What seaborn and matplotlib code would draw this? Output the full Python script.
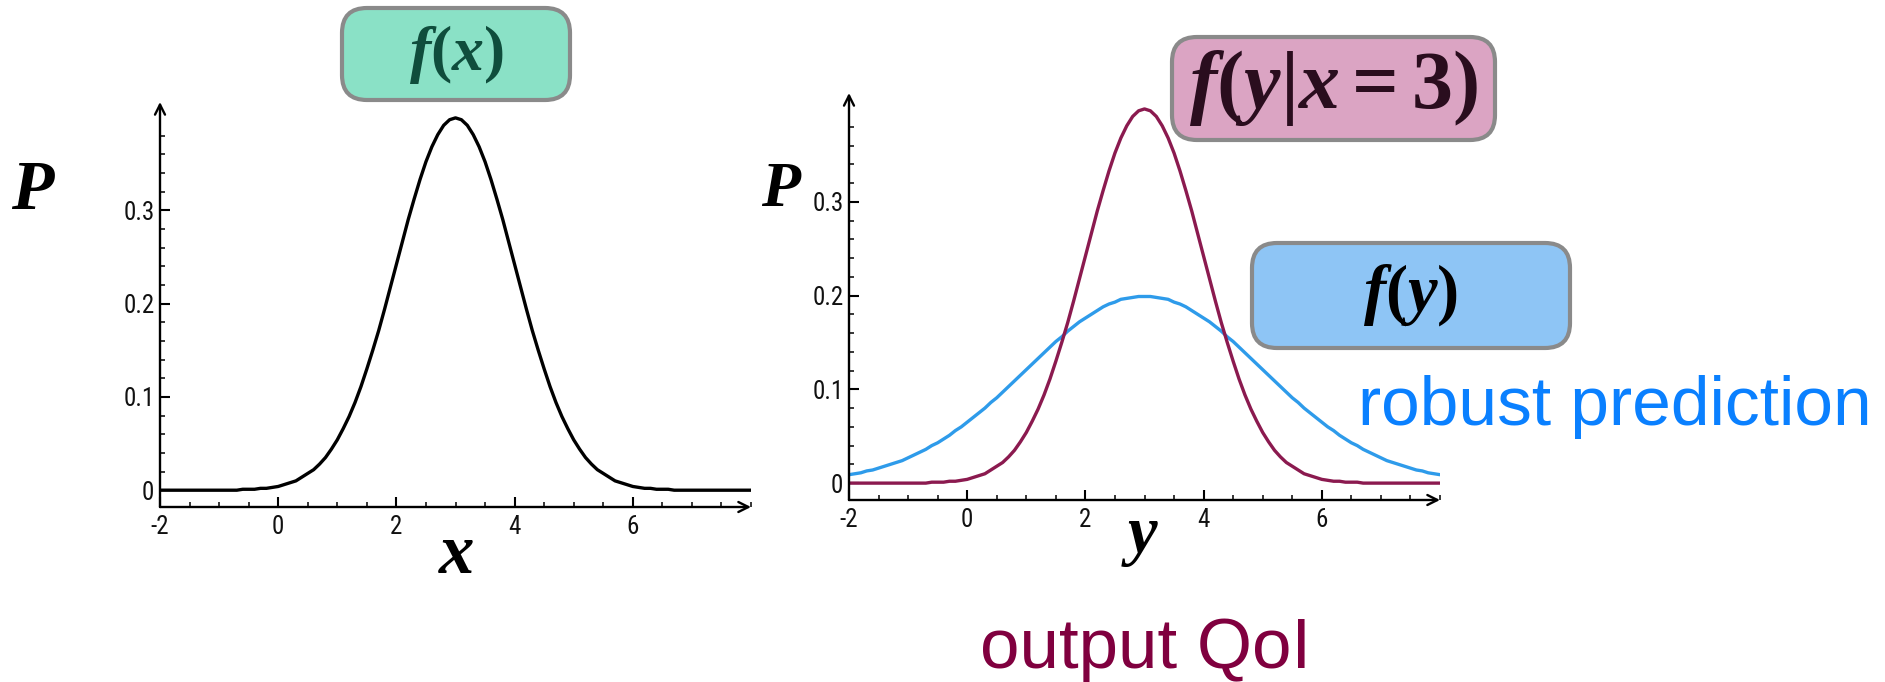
import numpy as np
import pandas as pd
import matplotlib
matplotlib.use("Agg")
import matplotlib.pyplot as plt
from matplotlib import font_manager
from matplotlib.patches import FancyBboxPatch
from matplotlib.ticker import FixedLocator, MultipleLocator
import seaborn as sns

# ---- data -------------------------------------------------------------
# sample positions along the horizontal axis (-2 ... 8, step 0.1)
grid = np.round(np.arange(-2.0, 8.0001, 0.1), 1)

# input density f(x)
density_x = [
    0.000, 0.000, 0.000, 0.000, 0.000, 0.000, 0.000, 0.000, 0.000, 0.000,
    0.000, 0.000, 0.000, 0.000, 0.001, 0.001, 0.001, 0.002, 0.002, 0.003,
    0.004, 0.006, 0.008, 0.010, 0.014, 0.018, 0.022, 0.028, 0.035, 0.044,
    0.054, 0.066, 0.079, 0.094, 0.111, 0.130, 0.150, 0.171, 0.194, 0.218,
    0.242, 0.266, 0.290, 0.312, 0.333, 0.352, 0.368, 0.381, 0.391, 0.397,
    0.399,
    0.397, 0.391, 0.381, 0.368, 0.352, 0.333, 0.312, 0.290, 0.266, 0.242,
    0.218, 0.194, 0.171, 0.150, 0.130, 0.111, 0.094, 0.079, 0.066, 0.054,
    0.044, 0.035, 0.028, 0.022, 0.018, 0.014, 0.010, 0.008, 0.006, 0.004,
    0.003, 0.002, 0.002, 0.001, 0.001, 0.001, 0.000, 0.000, 0.000, 0.000,
    0.000, 0.000, 0.000, 0.000, 0.000, 0.000, 0.000, 0.000, 0.000, 0.000,
]
# conditional output density f(y|x=3)
density_y_given_x = list(density_x)
# marginal output density f(y)
density_y = [
    0.009, 0.010, 0.011, 0.013, 0.014, 0.016, 0.018, 0.020, 0.022, 0.024,
    0.027, 0.030, 0.033, 0.036, 0.040, 0.043, 0.047, 0.051, 0.056, 0.060,
    0.065, 0.070, 0.075, 0.080, 0.086, 0.091, 0.097, 0.103, 0.109, 0.115,
    0.121, 0.127, 0.133, 0.139, 0.145, 0.151, 0.156, 0.162, 0.167, 0.172,
    0.176, 0.180, 0.184, 0.188, 0.191, 0.193, 0.196, 0.197, 0.198, 0.199,
    0.199,
    0.199, 0.198, 0.197, 0.196, 0.193, 0.191, 0.188, 0.184, 0.180, 0.176,
    0.172, 0.167, 0.162, 0.156, 0.151, 0.145, 0.139, 0.133, 0.127, 0.121,
    0.115, 0.109, 0.103, 0.097, 0.091, 0.086, 0.080, 0.075, 0.070, 0.065,
    0.060, 0.056, 0.051, 0.047, 0.043, 0.040, 0.036, 0.033, 0.030, 0.027,
    0.024, 0.022, 0.020, 0.018, 0.016, 0.014, 0.013, 0.011, 0.010, 0.009,
]

x_ticks = [-2, 0, 2, 4, 6]
x_tick_labels = ["-2", "0", "2", "4", "6"]
y_ticks = [0.0, 0.1, 0.2, 0.3]
y_tick_labels = ["0", "0.1", "0.2", "0.3"]

# ---- style ------------------------------------------------------------
sns.set_style("white")
plt.rcParams["font.family"] = ["Liberation Sans", "DejaVu Sans"]
plt.rcParams["mathtext.fontset"] = "custom"
plt.rcParams["mathtext.it"] = "Liberation Serif:italic:bold"
plt.rcParams["mathtext.rm"] = "Liberation Serif:bold"
plt.rcParams["mathtext.bf"] = "Liberation Serif:bold"


def pick_font(names):
    for n in names:
        try:
            font_manager.findfont(n, fallback_to_default=False)
            return n
        except Exception:
            continue
    return "DejaVu Sans"


tick_font = pick_font(["Liberation Sans Narrow", "Roboto Condensed", "Liberation Sans"])

MAROON = "#8b1a4f"
BLUE = "#2e9bea"
W, H = 1885, 682

fig = plt.figure(figsize=(W / 100, H / 100), dpi=100)
fig.patch.set_facecolor("white")

# axes boxes in pixels: left, top, right, bottom
ax_l = fig.add_axes([160 / W, 1 - 507 / H, 591 / W, 405 / H])
ax_r = fig.add_axes([849 / W, 1 - 500 / H, 591 / W, 407 / H])

df = pd.DataFrame({"v": grid, "fx": density_x, "fyx": density_y_given_x, "fy": density_y})

sns.lineplot(data=df, x="v", y="fx", ax=ax_l, color="black", linewidth=2.4)
sns.lineplot(data=df, x="v", y="fy", ax=ax_r, color=BLUE, linewidth=2.4)
sns.lineplot(data=df, x="v", y="fyx", ax=ax_r, color=MAROON, linewidth=2.4)


def style_axes(ax, ylo, yhi, fsize, ypad):
    ax.set_xlim(-2, 8)
    ax.set_ylim(ylo, yhi)
    ax.set_xlabel("")
    ax.set_ylabel("")
    for s in ax.spines.values():
        s.set_visible(False)
    ax.set_facecolor("none")
    ax.set_xticks(x_ticks)
    ax.set_xticklabels(x_tick_labels, fontfamily=tick_font, fontsize=fsize)
    ax.set_yticks(y_ticks)
    ax.set_yticklabels(y_tick_labels, fontfamily=tick_font, fontsize=fsize)
    ax.xaxis.set_minor_locator(MultipleLocator(0.5))
    ax.yaxis.set_minor_locator(FixedLocator(np.arange(0.02, 0.39, 0.02)))
    ax.tick_params(which="major", direction="in", length=7, width=1.5,
                   color="black", labelcolor="#111111")
    ax.tick_params(which="minor", direction="in", length=3.5, width=1.1,
                   color="black")
    ax.tick_params(axis="x", which="major", pad=6)
    ax.tick_params(axis="y", which="major", pad=ypad)
    ax.tick_params(left=True, bottom=True, which="both")
    arrow = dict(arrowstyle="->", lw=1.7, color="black",
                 shrinkA=0, shrinkB=0, mutation_scale=18)
    ax.annotate("", xy=(1.0, 0.0), xytext=(0.0, 0.0),
                xycoords="axes fraction", arrowprops=arrow)
    ax.annotate("", xy=(0.0, 1.0), xytext=(0.0, 0.0),
                xycoords="axes fraction", arrowprops=arrow)


style_axes(ax_l, -0.0180, 0.416, 18, 4)
style_axes(ax_r, -0.0180, 0.416, 18, 4)

# ---- axis names -------------------------------------------------------
serif_bi = dict(fontfamily="Liberation Serif", fontstyle="italic",
                fontweight="bold", color="black")
inch = fig.dpi_scale_trans
fig.text(0.32, 6.82 - 2.09, "P", transform=inch, ha="center", va="baseline",
         fontsize=50, **serif_bi)
fig.text(7.81, 6.82 - 2.06, "P", transform=inch, ha="center", va="baseline",
         fontsize=46, **serif_bi)
fig.text(4.57, 6.82 - 5.73, "x", transform=inch, ha="center", va="baseline",
         fontsize=51, **serif_bi)
fig.text(11.42, 6.82 - 5.53, "y", transform=inch, ha="center", va="baseline",
         fontsize=48, **serif_bi)

# ---- labelled boxes ---------------------------------------------------
def label_box(x0, y_top, w, h, face, text, tcolor, fsize):
    y0 = 6.82 - y_top - h
    box = FancyBboxPatch((x0, y0), w, h, boxstyle="round,pad=0,rounding_size=0.25",
                         transform=inch, facecolor=face, edgecolor="#8a8a8a",
                         linewidth=3, zorder=5)
    fig.patches.append(box)
    fig.text(x0 + w / 2, y0 + h / 2, text, transform=inch, ha="center",
             va="center", fontsize=fsize, color=tcolor, zorder=6)


label_box(3.42, 0.08, 2.28, 0.92, "#8ae1c6", r"$f(x)$", "#0f4d3c", 46)
label_box(11.72, 0.37, 3.23, 1.03, "#dba4c3", r"$f(y|x=3)$", "#2a0d1e", 59)
label_box(12.52, 2.43, 3.18, 1.05, "#8ec5f5", r"$f(y)$", "black", 48)

# ---- annotations ------------------------------------------------------
fig.text(13.58, 6.82 - 4.25, "robust prediction", transform=inch, ha="left",
         va="baseline", fontsize=50, color="#0a80ff", fontfamily="Liberation Sans")
fig.text(9.80, 6.82 - 6.68, "output QoI", transform=inch, ha="left",
         va="baseline", fontsize=51, color="#80003f", fontfamily="Liberation Sans")

fig.savefig("out.png", dpi=100, facecolor="white")
